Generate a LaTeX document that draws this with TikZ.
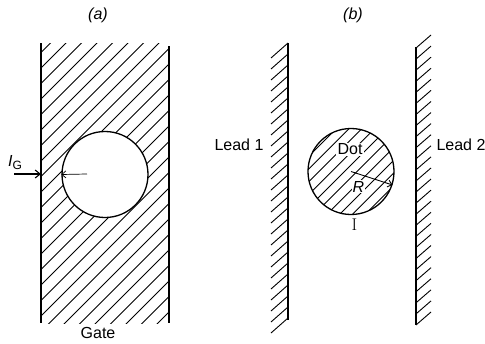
\documentclass[tikz,border=0pt]{standalone}
\usepackage{fontspec}
\newfontfamily\lblfont{Liberation Sans}
\usetikzlibrary{arrows.meta}
\begin{document}
\begin{tikzpicture}[x=1pt,y=-1pt,
  lbl/.style={font=\lblfont\fontsize{16}{19}\selectfont, inner sep=0pt},
  outline/.style={line width=1.3pt},
  hatch/.style={line width=0.9pt},
  arr/.style={line width=1.1pt,-{Straight Barb[length=5pt,width=8pt]}},
  thinarr/.style={line width=0.7pt,-{Straight Barb[length=4pt,width=7pt]}},
  hole/.style={circle, draw, minimum size=86pt, inner sep=0pt, outline},
]
\useasboundingbox (0,0) rectangle (485,343);
% ---------- (a) gate ----------
\begin{scope}
  \clip (41,43) rectangle (169,323);
  \foreach \c in {78,93.5,...,500} \draw[hatch] (\c,0) -- ++(-400,400);
\end{scope}
\node[hole, fill=white] (hole) at (105,174.5) {};
\draw[outline] (41,43) -- (41,323);
\draw[outline] (169,46) -- (169,323);
\coordinate (gateL) at (41,174);
\coordinate (igstart) at (14,174);
\coordinate (innerstart) at (87,174);
\draw[arr] (igstart) -- (gateL);
\draw[thinarr] (innerstart) -- (hole.west);
\node[lbl] (ig) at (15,163) {{\itshape I}\raisebox{-3pt}{\fontsize{12}{13}\selectfont G}};
\node[lbl] (la) at (98,15) {\itshape (a)};
\node[lbl] (gate) at (98,333) {Gate};
% ---------- (b) ----------
\node[lbl] (lb) at (353,15) {\itshape (b)};
% lead 1
\foreach \i in {0,...,25} \draw[hatch] (288,43+11*\i) -- ++(-17,15);
\draw[outline] (288,43) -- (288,320);
% lead 2
\foreach \i in {0,...,25} \draw[hatch] (416,48+11.08*\i) -- ++(15,-13);
\draw[outline] (416,47) -- (416,325);
\node[lbl] (lead1) at (239,144.5) {Lead 1};
\node[lbl] (lead2) at (461,145) {Lead 2};
% dot
\begin{scope}
  \clip (351,171.5) circle[radius=43pt];
  \foreach \c in {300,312.7,...,620} \draw[hatch] (\c,0) -- ++(-400,400);
\end{scope}
\node[lbl, fill=white, inner sep=1.2pt] (dotlbl) at (350,149.5) {Dot};
\node[lbl, fill=white, inner sep=1pt] (rlbl) at (358.5,186.5) {\itshape R};
\node[hole] (dot) at (351,171.5) {};
\draw[thinarr, line width=0.9pt] (dot.center) -- (dot.-18);
\node[font=\fontsize{17}{19}\selectfont, inner sep=0pt] (ilbl) at (354.5,224.5) {I};
\end{tikzpicture}
\end{document}
